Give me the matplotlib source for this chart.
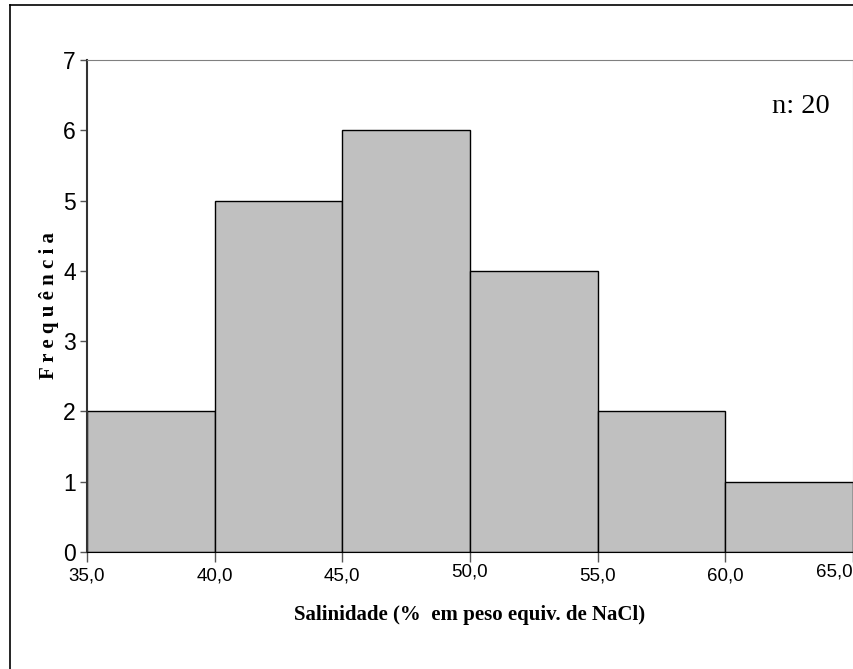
import matplotlib
matplotlib.use("Agg")
import matplotlib.pyplot as plt
import matplotlib.transforms as mtransforms
from matplotlib import font_manager
from matplotlib.lines import Line2D

# dados do histograma
bin_edges = [35.0, 40.0, 45.0, 50.0, 55.0, 60.0, 65.0]
frequencias = [2, 5, 6, 4, 2, 1]
y_ticks = [0, 1, 2, 3, 4, 5, 6, 7]
x_tick_labels = ["35,0", "40,0", "45,0", "50,0", "55,0", "60,0", "65,0"]

nomes = {f.name for f in font_manager.fontManager.ttflist}
narrow = "Liberation Sans Narrow" if "Liberation Sans Narrow" in nomes else "Liberation Sans"

fig = plt.figure(figsize=(8.54, 6.69), dpi=100)
ax = fig.add_axes([87 / 854, 1 - 552 / 669, 766 / 854, 492 / 669])

larguras = [b - a for a, b in zip(bin_edges[:-1], bin_edges[1:])]
ax.bar(bin_edges[:-1], frequencias, width=larguras, align="edge",
       color="#C0C0C0", edgecolor="black", linewidth=1.0, zorder=2)

ax.set_xlim(bin_edges[0], bin_edges[-1])
ax.set_ylim(0, 7)
ax.set_xticks(bin_edges)
ax.set_xticklabels(x_tick_labels, fontsize=13.5, family="Liberation Sans")
ax.set_yticks(y_ticks)
ax.set_yticklabels([str(v) for v in y_ticks], fontsize=16.5, family=narrow)
ax.tick_params(axis="x", length=7, width=1, pad=4, color="#555555")
ax.tick_params(axis="y", length=5, width=1, pad=3, color="#555555")

# alguns rótulos aparecem um pouco mais altos no original; o último fica encostado à borda
rotulos = ax.get_xticklabels()
sobe = mtransforms.ScaledTranslation(0, 3 / 72, fig.dpi_scale_trans)
rotulos[3].set_transform(rotulos[3].get_transform() + sobe)
rotulos[-1].set_transform(rotulos[-1].get_transform() + sobe)
rotulos[-1].set_horizontalalignment("right")

for lado in ["top", "right"]:
    ax.spines[lado].set_color("#808080")
ax.spines["left"].set_color("#333333")
ax.spines["left"].set_linewidth(1.5)
ax.spines["bottom"].set_color("black")

ax.set_xlabel("Salinidade (%  em peso equiv. de NaCl)", fontsize=15,
              family="Liberation Serif", fontweight="bold", labelpad=15)
ax.set_ylabel("F r e q u ê n c i a", fontsize=15, family="Liberation Serif",
              fontweight="bold", labelpad=3)

ax.text(0.970, 0.906, "n: 20", transform=ax.transAxes, ha="right", va="center",
        fontsize=20.5, family="Liberation Serif")

# moldura externa (parcialmente cortada)
fig.add_artist(Line2D([10 / 854, 10 / 854], [0, 1 - 5 / 669], color="black", lw=1.2))
fig.add_artist(Line2D([10 / 854, 1], [1 - 5 / 669, 1 - 5 / 669], color="black", lw=1.2))

fig.savefig("out.png", dpi=100)
